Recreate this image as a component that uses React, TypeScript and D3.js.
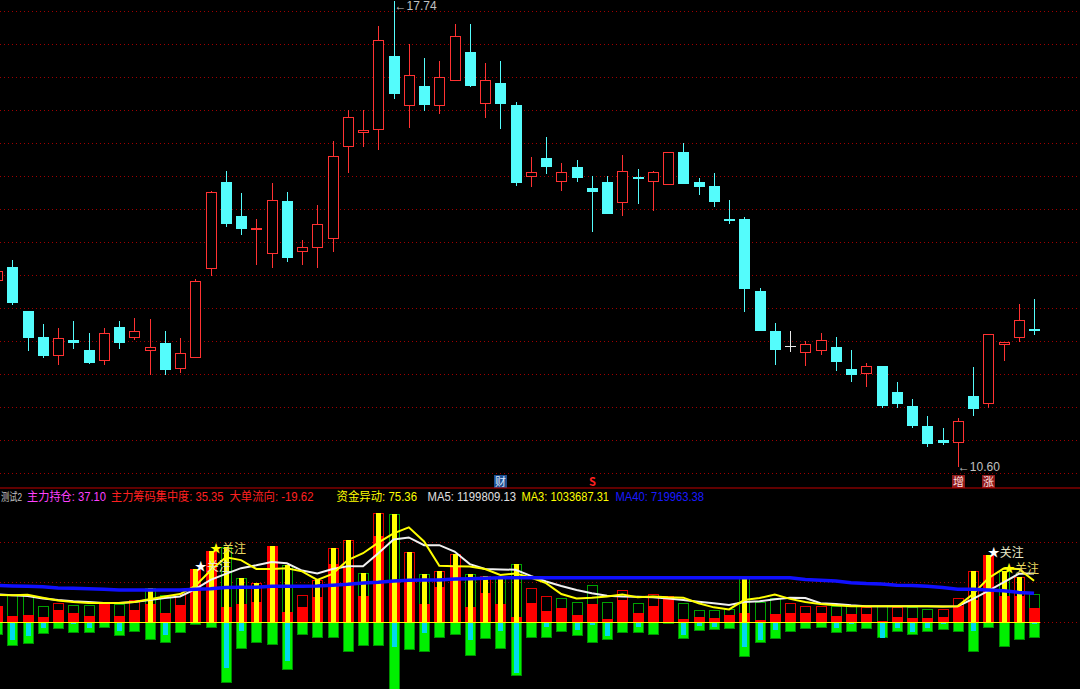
import React from 'react';
import * as d3 from 'd3';

// ---------- main panel: daily candles ----------
const opens = [13.45,13.66,12.99,12.59,12.30,12.55,12.39,12.23,12.75,12.57,
  12.37,12.50,12.10,12.27,13.63,14.97,14.45,14.23,13.87,14.68,
  13.89,13.96,14.10,15.50,15.71,15.77,16.90,16.13,16.44,16.13,
  16.52,16.96,16.16,16.48,16.15,15.04,15.33,14.97,15.19,14.88,
  14.97,14.64,15.05,14.96,14.92,15.43,14.97,14.91,14.40,14.40,
  13.29,12.69,12.46,12.34,12.37,12.44,12.10,12.03,12.15,11.75,
  11.53,11.23,11.01,10.97,11.69,11.57,12.47,12.57,12.71];
const highs = [13.65,13.77,12.99,12.79,12.73,12.84,12.65,12.73,12.84,12.88,
  12.86,12.68,12.58,13.48,14.83,15.13,14.80,14.40,14.95,14.81,
  14.08,14.61,15.59,16.07,16.07,17.35,17.74,17.08,16.86,16.82,
  17.39,17.39,16.79,16.82,16.19,15.35,15.65,15.26,15.31,15.06,
  15.06,15.38,15.16,15.14,15.43,15.56,15.03,15.10,14.69,14.43,
  13.34,12.81,12.69,12.53,12.66,12.59,12.40,12.19,12.15,11.91,
  11.64,11.38,11.20,11.35,12.13,12.64,12.51,13.09,13.17];
const lows = [13.40,13.08,12.38,12.27,12.17,12.41,12.18,12.17,12.41,12.55,
  12.01,12.01,12.04,12.27,13.52,14.27,14.16,13.70,13.65,13.74,
  13.70,13.65,13.89,15.10,15.51,15.45,16.24,15.80,16.06,16.01,
  16.52,16.42,15.94,15.78,14.91,14.89,15.09,14.83,14.97,14.20,
  14.47,14.45,14.63,14.53,14.92,14.93,14.76,14.58,14.32,12.98,
  12.69,12.17,12.36,12.14,12.32,12.07,11.90,11.82,11.50,11.50,
  11.20,10.90,10.93,10.60,11.38,11.50,12.23,12.51,12.62];
const closes = [13.60,13.12,12.57,12.30,12.57,12.50,12.20,12.66,12.50,12.68,
  12.44,12.08,12.34,13.45,14.82,14.32,14.25,14.26,14.69,13.80,
  13.97,14.33,15.36,15.96,15.77,17.15,16.32,16.61,16.14,16.58,
  17.20,16.43,16.53,16.16,14.95,15.12,15.19,15.12,15.03,14.81,
  14.48,15.14,15.03,15.12,15.43,14.93,14.89,14.66,14.38,13.32,
  12.69,12.39,12.46,12.48,12.54,12.21,12.01,12.15,11.53,11.57,
  11.23,10.96,10.97,11.30,11.49,12.64,12.51,12.85,12.68];

// ---------- lower panel: fund indicator (millions) ----------
const fundTotal = [0.40,0.68,0.68,0.40,0.47,0.43,0.43,0.51,0.46,0.54,
  0.84,0.68,0.69,1.31,1.76,1.86,1.10,0.97,1.90,1.42,
  0.68,1.05,1.83,2.04,1.21,2.71,2.67,1.73,1.20,1.27,
  1.68,1.20,1.15,1.11,1.44,0.84,0.66,0.59,0.50,0.92,
  0.50,0.80,0.47,0.69,0.64,0.47,0.31,0.31,0.32,1.12,
  0.51,0.61,0.47,0.40,0.40,0.40,0.40,0.39,0.40,0.37,
  0.39,0.32,0.33,0.61,1.27,1.66,1.27,1.13,0.71];
const fundRed = [0.40,0.15,0.17,0.12,0.31,0.23,0.15,0.51,0.15,0.31,
  0.45,0.22,0.43,1.31,1.76,0.39,0.45,0.51,1.90,0.25,
  0.39,0.63,1.45,1.34,0.64,2.14,1.01,1.05,0.45,0.87,
  1.38,0.39,0.73,0.45,0.12,0.47,0.28,0.36,0.17,0.45,
  0.08,0.55,0.22,0.40,0.64,0.08,0.12,0.10,0.17,0.22,
  0.06,0.21,0.22,0.22,0.24,0.16,0.20,0.20,0.02,0.12,
  0.10,0.10,0.14,0.40,0.55,1.66,0.66,0.64,0.36];
const fundOut = [0.31,0.58,0.53,0.29,0.17,0.26,0.26,0.13,0.33,0.25,
  0.43,0.50,0.27,0.06,0.15,1.50,0.67,0.50,0.55,1.17,
  0.32,0.40,0.38,0.73,0.59,0.59,1.90,0.68,0.73,0.40,
  0.31,0.83,0.42,0.66,1.33,0.38,0.38,0.25,0.33,0.50,
  0.44,0.27,0.27,0.31,0.02,0.41,0.21,0.19,0.17,0.85,
  0.50,0.41,0.25,0.17,0.15,0.27,0.25,0.17,0.40,0.25,
  0.31,0.25,0.19,0.25,0.73,0.13,0.62,0.44,0.38];
const fundCyan = [0,0.45,0.35,0.15,0,0.04,0.13,0,0.21,0,
  0,0.31,0,0,0,1.12,0.21,0,0,0.96,
  0,0,0,0,0,0,0.60,0,0.27,0,
  0,0.45,0,0.21,1.26,0,0.11,0,0.19,0.07,
  0.35,0,0.11,0,0,0.31,0.09,0.11,0.02,0.60,
  0.44,0.19,0,0,0,0.13,0.04,0,0.40,0.13,
  0.23,0.15,0.05,0,0.21,0,0,0,0.03];
const ma5 = [0.69,0.67,0.65,0.59,0.55,0.52,0.50,0.48,0.48,0.50,
  0.55,0.60,0.64,0.82,1.05,1.20,1.34,1.41,1.49,1.46,
  1.28,1.21,1.32,1.39,1.39,1.71,2.05,2.10,1.91,1.91,
  1.75,1.44,1.32,1.31,1.30,1.15,1.01,0.90,0.80,0.72,
  0.66,0.64,0.63,0.62,0.59,0.55,0.51,0.47,0.43,0.50,
  0.52,0.57,0.61,0.60,0.47,0.45,0.42,0.40,0.40,0.40,
  0.40,0.40,0.39,0.40,0.58,0.78,0.99,1.20,1.21];
const ma3 = [0.68,0.67,0.68,0.61,0.54,0.50,0.48,0.48,0.48,0.50,
  0.57,0.64,0.70,0.90,1.28,1.61,1.54,1.32,1.32,1.34,
  1.26,1.05,1.20,1.54,1.71,1.97,2.20,2.35,2.00,1.40,
  1.39,1.38,1.32,1.17,1.21,1.11,0.97,0.70,0.59,0.61,
  0.64,0.69,0.62,0.64,0.62,0.61,0.47,0.37,0.32,0.55,
  0.60,0.69,0.58,0.50,0.45,0.42,0.40,0.40,0.40,0.40,
  0.40,0.40,0.39,0.40,0.70,1.09,1.33,1.32,1.03];
const ma40 = [0.91,0.90,0.89,0.88,0.85,0.84,0.83,0.82,0.80,0.80,
  0.80,0.80,0.80,0.82,0.83,0.86,0.87,0.87,0.89,0.89,
  0.89,0.90,0.92,0.94,0.97,0.99,1.02,1.04,1.05,1.05,
  1.07,1.08,1.09,1.10,1.10,1.10,1.10,1.10,1.10,1.10,
  1.10,1.10,1.10,1.10,1.10,1.10,1.10,1.10,1.10,1.10,
  1.10,1.10,1.10,1.06,1.04,1.02,0.98,0.96,0.95,0.92,
  0.91,0.89,0.86,0.82,0.82,0.80,0.78,0.74,0.72];
const lowTicks = [0, 1, 2];

const whiteStarIdx = [13, 65];
const yellowStarIdx = [14, 66];

const markerIdx = [33, 39, 63, 65];
const markerText = ['财', 'S', '增', '涨'];
const markerBg = ['#1d4e8f', 'none', '#8e1a1a', '#8e1a1a'];
const markerFg = ['#dce8ff', '#ff2020', '#ffe0e0', '#ffe0e0'];

const titleNames = ['测试2', '主力持仓', '主力筹码集中度', '大单流向', '资金异动', 'MA5', 'MA3', 'MA40'];
const titleValues = ['', '37.10', '35.35', '-19.62', '75.36', '1199809.13', '1033687.31', '719963.38'];
const titleColors = ['#c0c0c0', '#ff40ff', '#ff2020', '#ff2020', '#ffff00', '#e0e0e0', '#ffff00', '#1a1aff'];

// layout (not data)
const W = 1080, H = 689;
const titleX = [1, 27, 111, 229.5, 336.5, 427.5, 521.5, 615.5];
const titleW = [21, 79, 112.5, 84, 80.5, 88.5, 87.5, 88.5];
const titleSize = [11, 12, 12, 12, 12, 12, 12, 12];
const FONT = '"Liberation Sans", "Noto Sans CJK SC", sans-serif';
const CJK = '"Noto Sans CJK SC", "Liberation Sans", sans-serif';

const RED = '#ff3232';
const CYAN = '#54fcfc';

export default function App() {
  const n = opens.length;
  const x = d3.scaleLinear().domain([0, n - 1]).range([-2.95, 1034.05]);
  const yMain = d3.scaleLinear().domain([10.6, 17.74]).range([467, 1]);
  const yLow = d3.scaleLinear().domain([0, 1]).range([622.3, 581.9]);
  const gridMain = d3.scaleLinear().domain([0, 14]).range([11.3, 473.3]);

  const line = (arr: number[]) =>
    d3.line<number>().x((_, i) => x(i)).y((v) => yLow(v))(arr) || '';

  const hiIdx = d3.maxIndex(highs);
  const loIdx = d3.minIndex(lows);

  return (
    <svg width={W} height={H} style={{ position: 'absolute', left: 0, top: 0, display: 'block' }}>
      <defs>
        <clipPath id="mainClip"><rect x={0} y={0} width={W} height={487} /></clipPath>
        <clipPath id="lowClip"><rect x={0} y={489} width={W} height={H - 489} /></clipPath>
      </defs>
      <rect x={0} y={0} width={W} height={H} fill="#000" />

      {/* main grid */}
      {d3.range(15).map((k) => (
        <line key={'g' + k} x1={0} x2={W} y1={Math.round(gridMain(k)) + 0.5} y2={Math.round(gridMain(k)) + 0.5}
          stroke="#a00000" strokeDasharray="1 3" />
      ))}

      {/* candles */}
      <g clipPath="url(#mainClip)" shapeRendering="crispEdges">
        {opens.map((o, i) => {
          const c = closes[i];
          const px = Math.round(x(i));
          const cx = px + 0.5;
          const top = Math.round(yMain(Math.max(o, c)));
          const bot = Math.round(yMain(Math.min(o, c)));
          const yh = Math.round(yMain(highs[i]));
          const yl = Math.round(yMain(lows[i]));
          if (c > o) {
            return (
              <g key={'c' + i}>
                <line x1={cx} x2={cx} y1={yh} y2={top} stroke={RED} />
                <line x1={cx} x2={cx} y1={bot} y2={yl} stroke={RED} />
                <rect x={px - 4.5} y={top + 0.5} width={10} height={Math.max(bot - top - 1, 1)} fill="#000" stroke={RED} />
              </g>
            );
          }
          if (c < o) {
            return (
              <g key={'c' + i}>
                <line x1={cx} x2={cx} y1={yh} y2={yl} stroke={CYAN} />
                <rect x={px - 5} y={top} width={11} height={Math.max(bot - top, 2)} fill={CYAN} />
              </g>
            );
          }
          return (
            <g key={'c' + i}>
              <line x1={cx} x2={cx} y1={yh} y2={yl} stroke="#e8e8e8" />
              <line x1={px - 5} x2={px + 6} y1={top + 0.5} y2={top + 0.5} stroke="#e8e8e8" />
            </g>
          );
        })}
      </g>

      {/* high / low labels */}
      <text x={x(hiIdx) + 1} y={yMain(highs[hiIdx]) + 6} dominantBaseline="middle" fill="#c0c0c0" fontSize={12} fontFamily={FONT}>
        {'←' + highs[hiIdx].toFixed(2)}
      </text>
      <text x={x(loIdx)} y={yMain(lows[loIdx]) + 1} dominantBaseline="middle" fill="#c0c0c0" fontSize={12} fontFamily={FONT}>
        {'←' + lows[loIdx].toFixed(2)}
      </text>

      {/* event markers */}
      {markerIdx.map((mi, k) => (
        <g key={'m' + k}>
          {markerBg[k] !== 'none' && (
            <rect x={Math.round(x(mi)) - 6} y={475} width={13} height={13} fill={markerBg[k]} />
          )}
          <text x={Math.round(x(mi)) + 0.5} y={486} textAnchor="middle" fill={markerFg[k]} fontSize={11}
            fontFamily={CJK} fontWeight={markerText[k] === 'S' ? 'bold' : 'normal'}>
            {markerText[k]}
          </text>
        </g>
      ))}

      {/* separator */}
      <line x1={0} x2={W} y1={488} y2={488} stroke="#c00000" strokeWidth={1} />

      {/* title row */}
      {titleNames.map((nm, k) => (
        <text key={'t' + k} x={titleX[k]} y={500.5} fill={titleColors[k]} fontSize={titleSize[k]} fontFamily={FONT}
          textLength={titleW[k]} lengthAdjust="spacingAndGlyphs">
          {titleValues[k] ? `${nm}: ${titleValues[k]}` : nm}
        </text>
      ))}

      {/* lower grid */}
      {lowTicks.map((t) => (
        <line key={'lg' + t} x1={0} x2={W} y1={Math.round(yLow(t)) + 0.5} y2={Math.round(yLow(t)) + 0.5}
          stroke="#a00000" strokeDasharray="1 3" />
      ))}

      <g clipPath="url(#lowClip)">
        <g shapeRendering="crispEdges">
          {fundTotal.map((a, i) => {
            const px = Math.round(x(i));
            const y0 = Math.round(yLow(0));
            const up = i === 0 ? closes[0] >= opens[0] : closes[i] >= closes[i - 1];
            const ya = Math.round(yLow(a));
            const yr = Math.round(yLow(fundRed[i]));
            const yg = Math.round(yLow(-fundOut[i]));
            const yc = Math.round(yLow(-fundCyan[i]));
            return (
              <g key={'b' + i}>
                <rect x={px - 4.5} y={ya + 0.5} width={10} height={y0 - ya - 1} fill="none" stroke={up ? '#e00000' : '#00a000'} />
                <rect x={px - 5} y={yr} width={11} height={y0 - yr} fill="#ff0000" />
                {a > ma40[i] && <rect x={px - 2} y={ya} width={5} height={y0 - ya} fill="#ffff00" />}
                <rect x={px - 4.5} y={y0 + 0.5} width={10} height={Math.max(yg - y0 - 1, 0.5)} fill="#00f000" stroke="#009000" />
                {fundCyan[i] > 0 && <rect x={px - 2} y={y0 + 1} width={5} height={yc - y0 - 1} fill="#00d8f0" />}
              </g>
            );
          })}
        </g>
        <line x1={0} x2={x(n - 1) + 6} y1={Math.round(yLow(0)) + 0.5} y2={Math.round(yLow(0)) + 0.5} stroke="#ffff00" />
        <path d={line(ma5)} fill="none" stroke="#f0f0f0" strokeWidth={2} />
        <path d={line(ma3)} fill="none" stroke="#ffff00" strokeWidth={2} />
        <path d={line(ma40)} fill="none" stroke="#1010ff" strokeWidth={3.5} />

        {whiteStarIdx.map((si) => (
          <text key={'ws' + si} x={x(si) - 0.5} y={yLow(fundTotal[si]) + 2} fontSize={12} fontFamily={CJK}>
            <tspan fill="#ffffff">★</tspan><tspan fill="#e8e8c8">关注</tspan>
          </text>
        ))}
        {yellowStarIdx.map((si) => (
          <text key={'ys' + si} x={x(si) - 0.5} y={yLow(fundTotal[si]) + 2} fontSize={12} fontFamily={CJK}>
            <tspan fill="#ffff00">★</tspan><tspan fill="#e8d860">关注</tspan>
          </text>
        ))}
      </g>
    </svg>
  );
}
